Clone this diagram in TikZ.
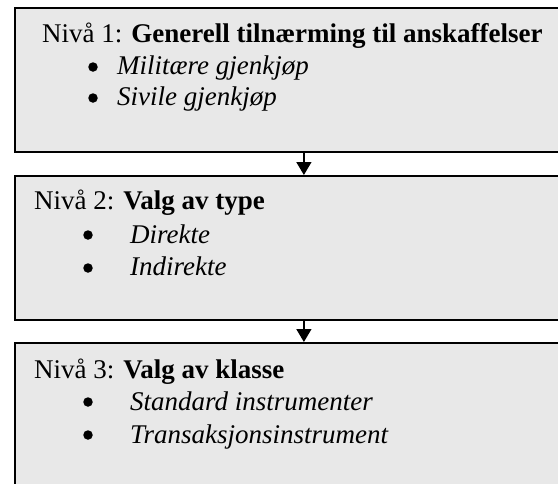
\documentclass[tikz,border=0pt]{standalone}
\usepackage{fontspec}
\setmainfont{Liberation Serif}
\usetikzlibrary{arrows.meta}
\definecolor{boxgray}{RGB}{232,232,232}
\begin{document}
\begin{tikzpicture}[x=1pt,y=-1pt,
  levelbox/.style={draw=black, line width=1.8pt, fill=boxgray, rectangle,
    anchor=north west, minimum width=578pt, minimum height=144pt, inner sep=0pt},
  txt/.style={inner sep=0pt, font=\fontsize{27}{32}\selectfont},
  head/.style={txt, anchor=base west},
  dot/.style={circle, fill=black, inner sep=0pt, minimum size=9.5pt},
  item/.style={txt, anchor=base west, font=\fontsize{27}{32}\selectfont\itshape},
  conn/.style={draw=black, line width=1.5pt, -{Triangle[width=15pt,length=13pt]}}
]
\useasboundingbox (0,0) rectangle (558,483);
\clip (0,0) rectangle (558,483);
\fill[white] (0,0) rectangle (558,483);

% the three levels
\node[levelbox] (lvl1) at (14,7) {};
\node[levelbox] (lvl2) at (14,175) {};
\node[levelbox] (lvl3) at (14,342) {};

% level 1
\node[head] (h1) at (42,42) {Nivå 1: \textbf{Generell tilnærming til anskaffelser}};
\node[dot] (b11) at (93,67) {};
\node[item] (i11) at (117,74) {Militære gjenkjøp};
\node[dot] (b12) at (93,98) {};
\node[item] (i12) at (117,105) {Sivile gjenkjøp};

% level 2
\node[head] (h2) at (34,209) {Nivå 2: \textbf{Valg av type}};
\node[dot] (b21) at (88,235) {};
\node[item] (i21) at (130,243) {Direkte};
\node[dot] (b22) at (88,268) {};
\node[item] (i22) at (130,275) {Indirekte};

% level 3
\node[head] (h3) at (34,378) {Nivå 3: \textbf{Valg av klasse}};
\node[dot] (b31) at (88,402) {};
\node[item] (i31) at (130,410) {Standard instrumenter};
\node[dot] (b32) at (88,435) {};
\node[item] (i32) at (130,443) {Transaksjonsinstrument};

% connectors between levels
\draw[conn] (lvl1.south) -- (lvl2.north);
\draw[conn] (lvl2.south) -- (lvl3.north);
\end{tikzpicture}
\end{document}
